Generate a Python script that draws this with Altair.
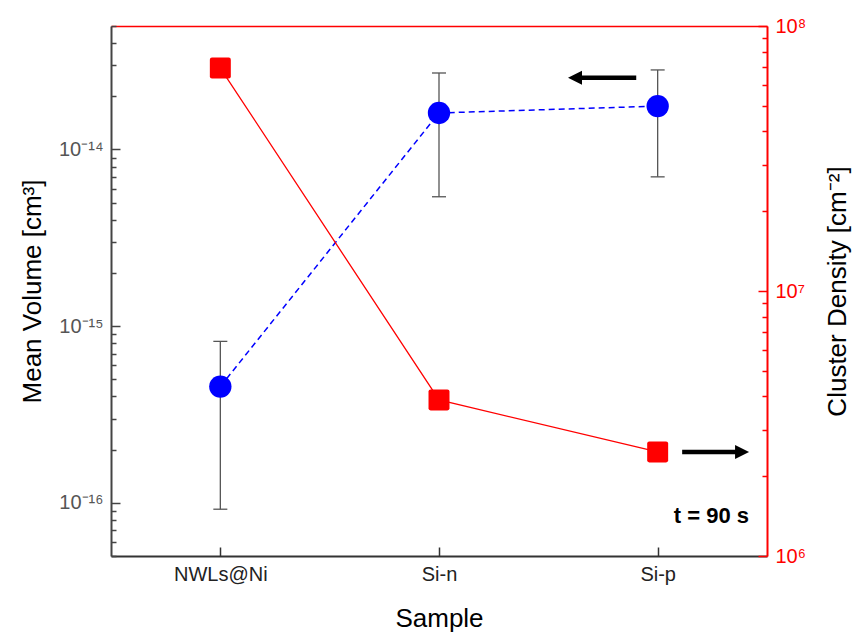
import altair as alt
import pandas as pd

# ---- data -------------------------------------------------------------
samples = ["NWLs@Ni", "Si-n", "Si-p"]
sample_pos = [0, 1, 2]

mean_volume = [4.55e-16, 1.61e-14, 1.76e-14]          # cm^3
volume_err_low = [9.2e-17, 5.4e-15, 7.0e-15]
volume_err_high = [8.2e-16, 2.71e-14, 2.82e-14]

cluster_density = [6.94e7, 3.88e6, 2.47e6]            # cm^-2

volume_ticks = [1e-16, 1e-15, 1e-14]
volume_tick_labels = ["10⁻¹⁶", "10⁻¹⁵", "10⁻¹⁴"]
density_ticks = [1e6, 1e7, 1e8]
density_tick_labels = ["10⁶", "10⁷", "10⁸"]

volume_domain = [5e-17, 5e-14]
density_domain = [1e6, 1e8]
x_domain = [-0.5, 2.5]

# arrows telling which axis each series belongs to (data units)
vol_arrow_x = [1.636, 1.902]
vol_arrow_head = 1.622
vol_arrow_y = 2.55e-14
den_arrow_x = [2.112, 2.368]
den_arrow_head = 2.386
den_arrow_y = 2.47e6

note_text = "t = 90 s"
note_x = 2.418
note_y = 1.33e6

# ---- styling ----------------------------------------------------------
W, H = 656, 530
FONT = "Liberation Sans"
BLUE = "#0000ff"
RED = "#ff0000"
GRAY = "#555555"
DARK = "#333333"

ROUNDED_SQUARE = ("M -0.8 -1 L 0.8 -1 Q 1 -1 1 -0.8 L 1 0.8 Q 1 1 0.8 1 "
                  "L -0.8 1 Q -1 1 -1 0.8 L -1 -0.8 Q -1 -1 -0.8 -1 Z")
CAP = "M -1 0 L 1 0"
HEAD_LEFT = "M -1 0 L 1 -1 L 1 1 Z"
HEAD_RIGHT = "M 1 0 L -1 -1 L -1 1 Z"


def decade_minor(lo, hi):
    out = []
    for e in range(-20, 12):
        for m in range(2, 10):
            v = m * 10.0 ** e
            if lo * 0.9999 <= v <= hi * 1.0001:
                out.append(v)
    return out


volume_minor = decade_minor(*volume_domain)
density_minor = decade_minor(*density_domain)


def label_expr(labels, first_exp):
    arr = "[" + ",".join(f"'{s}'" for s in labels) + "]"
    return f"{arr}[round(log(datum.value)/LN10) - ({first_exp})]"


sample_expr = "[" + ",".join(f"'{s}'" for s in samples) + "][datum.value]"

vol_df = pd.DataFrame({"pos": sample_pos, "sample": samples, "volume": mean_volume,
                       "low": volume_err_low, "high": volume_err_high})
den_df = pd.DataFrame({"pos": sample_pos, "sample": samples, "density": cluster_density})

x_scale = alt.Scale(domain=x_domain, nice=False, zero=False)
vol_scale = alt.Scale(type="log", domain=volume_domain, nice=False)
den_scale = alt.Scale(type="log", domain=density_domain, nice=False)


def X(field="pos", axis=None):
    return alt.X(f"{field}:Q", scale=x_scale, axis=axis)


def Yv(field, axis=None):
    return alt.Y(f"{field}:Q", scale=vol_scale, axis=axis)


def Yd(field, axis=None):
    return alt.Y(f"{field}:Q", scale=den_scale, axis=axis)


# ---- data layers ------------------------------------------------------
err_rule = alt.Chart(vol_df).mark_rule(color=GRAY, strokeWidth=1.3).encode(
    x=X(), y=Yv("low"), y2="high")
err_caps = alt.Chart(vol_df).transform_fold(["low", "high"], as_=["end", "bound"]).mark_point(
    shape=CAP, size=196, color=GRAY, strokeWidth=1.3, filled=False, opacity=1).encode(
    x=X(), y=Yv("bound"))

vol_line = alt.Chart(vol_df).mark_line(color=BLUE, strokeWidth=1.5, strokeDash=[6, 4]).encode(
    x=X(), y=Yv("volume"))
vol_points = alt.Chart(vol_df).mark_point(shape="circle", filled=True, size=500, color=BLUE,
                                          opacity=1).encode(x=X(), y=Yv("volume"))

den_line = alt.Chart(den_df).mark_line(color=RED, strokeWidth=1.3).encode(
    x=X(), y=Yd("density"))
den_points = alt.Chart(den_df).mark_point(shape=ROUNDED_SQUARE, filled=True, size=440, color=RED,
                                          opacity=1).encode(x=X(), y=Yd("density"))

vol_arrow_df = pd.DataFrame({"x0": [vol_arrow_x[0]], "x1": [vol_arrow_x[1]],
                             "head": [vol_arrow_head], "y": [vol_arrow_y]})
den_arrow_df = pd.DataFrame({"x0": [den_arrow_x[0]], "x1": [den_arrow_x[1]],
                             "head": [den_arrow_head], "y": [den_arrow_y]})

vol_shaft = alt.Chart(vol_arrow_df).mark_rule(color="black", strokeWidth=4.5).encode(
    x=X("x0"), x2="x1", y=Yv("y"))
vol_head = alt.Chart(vol_arrow_df).mark_point(shape=HEAD_LEFT, filled=True, size=196,
                                              color="black", opacity=1).encode(x=X("head"), y=Yv("y"))
den_shaft = alt.Chart(den_arrow_df).mark_rule(color="black", strokeWidth=4.5).encode(
    x=X("x0"), x2="x1", y=Yd("y"))
den_head = alt.Chart(den_arrow_df).mark_point(shape=HEAD_RIGHT, filled=True, size=196,
                                              color="black", opacity=1).encode(x=X("head"), y=Yd("y"))

note = alt.Chart(pd.DataFrame({"x": [note_x], "y": [note_y], "t": [note_text]})).mark_text(
    align="right", baseline="alphabetic", font=FONT, fontSize=22, fontWeight="bold",
    color="black").encode(x=X("x"), y=Yd("y"), text="t:N")


# ---- axes (labels outside, ticks pointing into the frame) -------------
def guide(df, x=None, y=None):
    return alt.Chart(df).mark_point(opacity=0).encode(x=x, y=y)


def tick_axis(orient, offset, values, size, color):
    return alt.Axis(orient=orient, offset=offset, values=values, labels=False, domain=False,
                    grid=False, ticks=True, tickSize=size, tickColor=color, tickWidth=1.5,
                    title=None)


left_labels = guide(vol_df, X(), Yv("volume", alt.Axis(
    orient="left", values=volume_ticks, labelExpr=label_expr(volume_tick_labels, -16),
    ticks=False, tickSize=0, labelPadding=8, labelFont=FONT, labelFontSize=20,
    labelColor=GRAY, domainColor="#444444", domainWidth=2, grid=False,
    title="Mean Volume [cm³]", titleFont=FONT, titleFontSize=26, titleFontWeight="normal",
    titleColor="black", titleAngle=270, titleBaseline="alphabetic", titleAlign="center",
    titleX=-71, titleY=H / 2)))
left_major = guide(vol_df, X(), Yv("volume", tick_axis("right", -W, volume_ticks, 9, "#444444")))
left_minor = guide(vol_df, X(), Yv("volume", tick_axis("right", -W, volume_minor, 5, "#444444")))

right_labels = guide(den_df, X(), Yd("density", alt.Axis(
    orient="right", values=density_ticks, labelExpr=label_expr(density_tick_labels, 6),
    ticks=False, tickSize=0, labelPadding=8, labelFont=FONT, labelFontSize=20,
    labelColor=RED, domainColor=RED, domainWidth=2, grid=False,
    title="Cluster Density [cm⁻²]", titleFont=FONT, titleFontSize=26, titleFontWeight="normal",
    titleColor="black", titleAngle=270, titleBaseline="alphabetic", titleAlign="center",
    titleX=78, titleY=H / 2)))
right_major = guide(den_df, X(), Yd("density", tick_axis("left", -W, density_ticks, 9, RED)))
right_minor = guide(den_df, X(), Yd("density", tick_axis("left", -W, density_minor, 5, RED)))

bottom_labels = guide(vol_df, X("pos", alt.Axis(
    orient="bottom", values=sample_pos, labelExpr=sample_expr, ticks=False, tickSize=0,
    labelPadding=8, labelFont=FONT, labelFontSize=20, labelColor="#222222",
    domainColor=DARK, domainWidth=2, grid=False, title="Sample", titleFont=FONT,
    titleFontSize=26, titleFontWeight="normal", titleColor="black",
    titleBaseline="alphabetic", titleY=70)), Yv("volume"))
bottom_ticks = guide(vol_df, X("pos", tick_axis("top", -H, sample_pos, 9, DARK)), Yv("volume"))
top_border = guide(vol_df, X("pos", alt.Axis(
    orient="top", values=[], labels=False, ticks=False, domain=True, domainColor=RED,
    domainWidth=1.5, grid=False, title=None)), Yv("volume"))

chart = alt.layer(
    left_labels, left_major, left_minor,
    right_labels, right_major, right_minor,
    bottom_labels, bottom_ticks, top_border,
    err_rule, err_caps, vol_line, den_line, den_points, vol_points,
    vol_shaft, vol_head, den_shaft, den_head, note,
).resolve_scale(y="independent").resolve_axis(x="independent", y="independent").properties(
    width=W, height=H,
    autosize=alt.AutoSizeParams(type="none"),
    padding={"left": 111, "top": 26, "right": 86, "bottom": 76},
).configure(font=FONT).configure_view(stroke=None)

chart.save("out.html", embed_options={"renderer": "svg", "actions": False})
